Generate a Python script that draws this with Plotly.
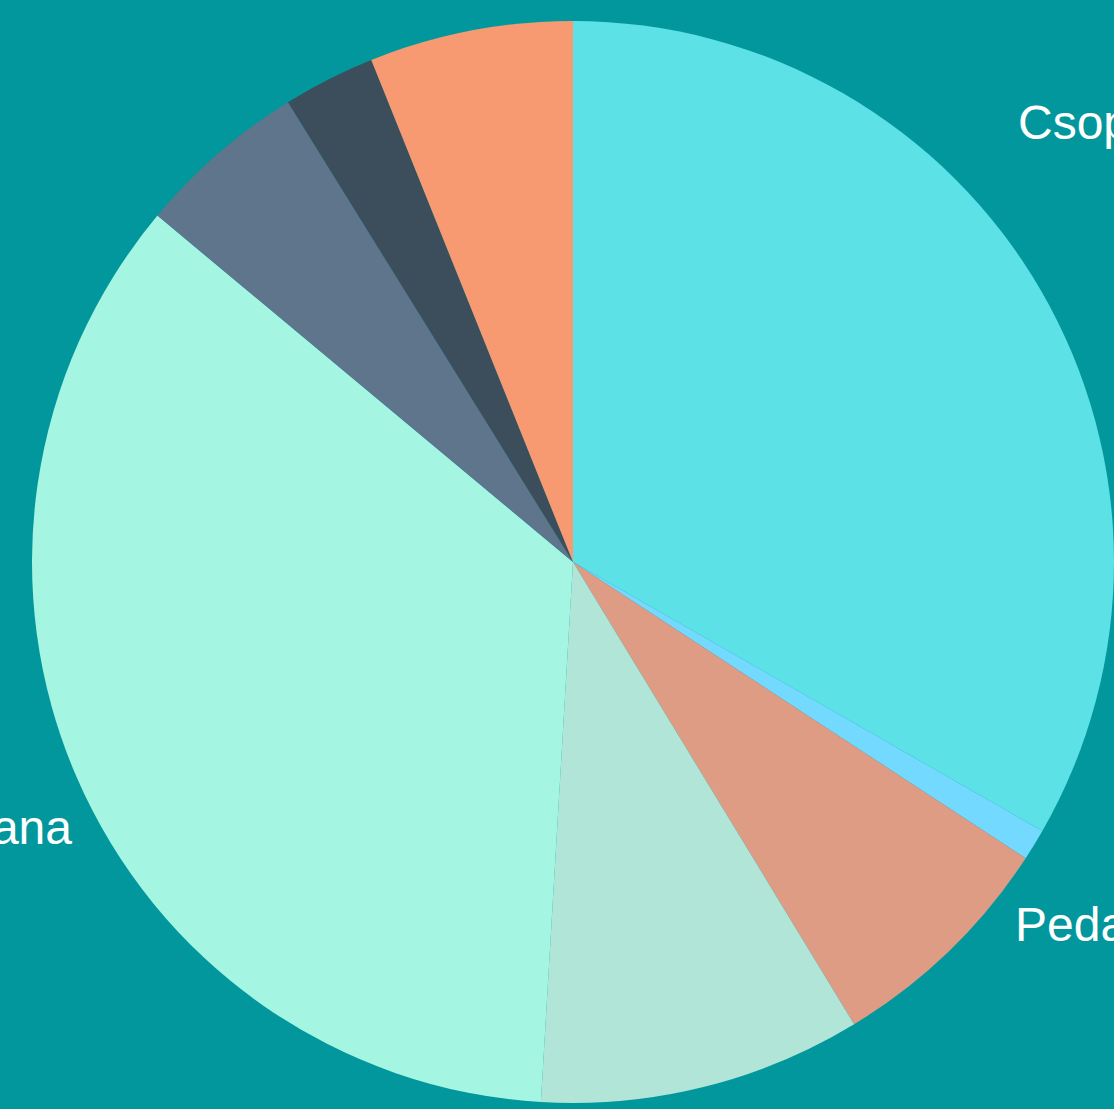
import plotly.graph_objects as go

# Data (shares in percent)
labels = [
    "Csoportos foglalkozás",
    "Egyéb",
    "Pedagógiai munka",
    "Tanácsadás",
    "Egyéni konzultáció Diana",
    "Szakmai nap",
    "Továbbképzés",
    "Rendezvény",
]
values = [33.28, 0.94, 7.08, 9.64, 35.11, 5.11, 2.75, 6.08]
colors = ["#5CE1E6", "#73D9FF", "#DF9C84", "#B0E5D8", "#A5F5E3", "#5F758B", "#3C4D5C", "#F79A72"]

# Which labels are visible, and where they sit (pixel positions in a 1114x1109 canvas)
shown_labels = [labels[0], labels[2], labels[4]]
W, H = 1114, 1109
label_pos = [(1016, 123, "left"), (1013, 924, "left"), (74, 827, "right")]

cx_from_bottom = H - 562
R = 541
fig = go.Figure(
    go.Pie(
        labels=labels,
        values=values,
        sort=False,
        direction="clockwise",
        rotation=0,
        marker=dict(colors=colors, line=dict(width=0)),
        textinfo="none",
        hoverinfo="label+percent",
        domain=dict(x=[32 / W, 1.0], y=[(cx_from_bottom - R) / H, (cx_from_bottom + R) / H]),
        showlegend=False,
    )
)

for txt, (px, py, anchor) in zip(shown_labels, label_pos):
    fig.add_annotation(
        text=txt,
        x=px / W,
        y=1 - py / H,
        xref="paper",
        yref="paper",
        xanchor=anchor,
        yanchor="middle",
        showarrow=False,
        font=dict(family="Arial, Liberation Sans, sans-serif", size=48, color="white"),
    )

fig.update_layout(
    width=W,
    height=H,
    margin=dict(l=0, r=0, t=0, b=0),
    paper_bgcolor="#02979D",
    plot_bgcolor="#02979D",
    font=dict(family="Arial, Liberation Sans, sans-serif", color="white"),
)

fig.write_html(
    "out.html",
    config={"displayModeBar": False},
    post_script="document.body.style.margin='0';document.body.style.overflow='hidden';",
)
